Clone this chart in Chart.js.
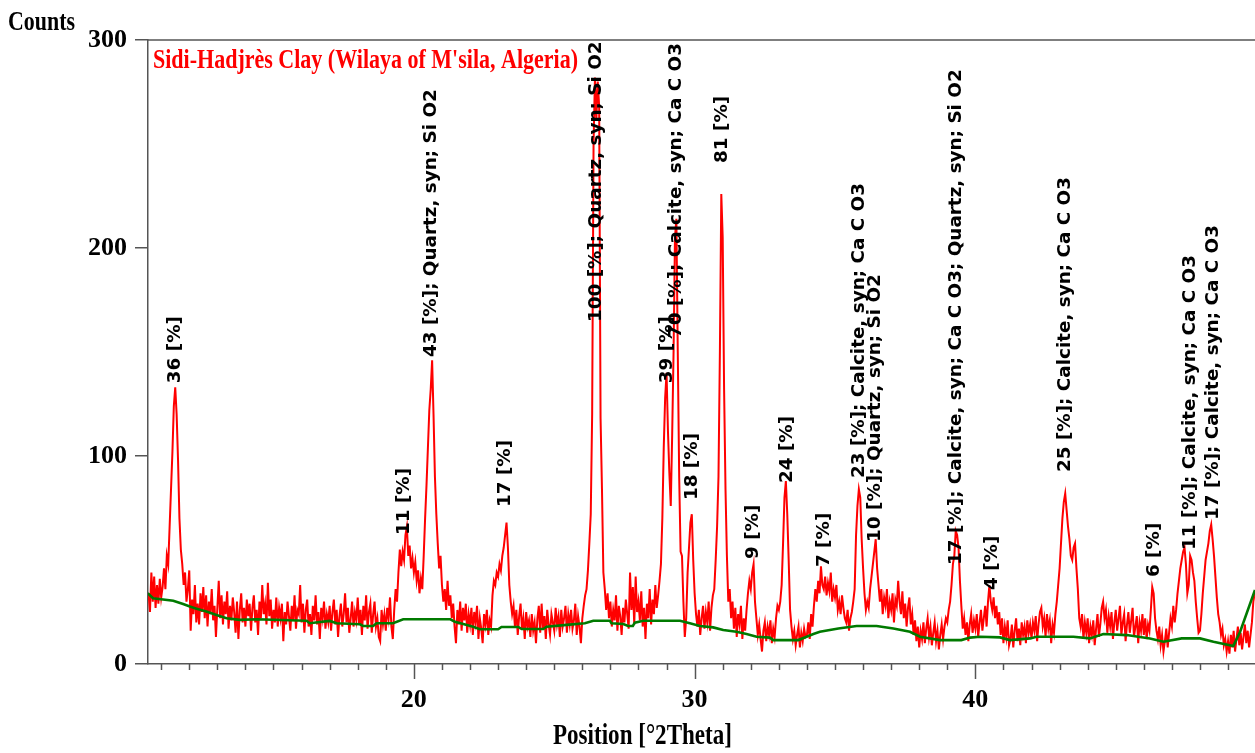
<!DOCTYPE html>
<html>
<head>
<meta charset="utf-8">
<script src="https://cdn.jsdelivr.net/npm/chart.js@4.4.1/dist/chart.umd.min.js"></script>
<style>
  html, body { margin: 0; padding: 0; background: #fff; }
  #wrap { width: 1255px; height: 753px; position: relative; }
</style>
</head>
<body>
<div id="wrap"><canvas id="xrd"></canvas></div>
<script>
// measured scan, 0.05 deg steps; one row per whole degree (first row starts at 10.55)
const scan10s = [
  [34, 25, 44, 30, 42, 27, 38, 29, 41],
  [32, 37, 46, 36, 52, 48, 66, 84, 102, 124, 133, 120, 98, 70, 55, 48, 38, 44, 30, 36],
  [45, 16, 31, 24, 38, 20, 29, 19, 34, 25, 37, 22, 33, 18, 30, 24, 36, 21, 28, 13],
  [27, 40, 22, 33, 19, 30, 24, 35, 17, 28, 21, 32, 25, 15, 30, 12, 26, 34, 20, 27],
  [18, 31, 23, 29, 16, 27, 33, 20, 26, 14, 30, 22, 38, 24, 29, 19, 39, 23, 31, 17],
  [26, 20, 32, 18, 27, 22, 29, 11, 25, 19, 30, 23, 16, 28, 21, 33, 17, 26, 24, 38],
  [20, 29, 15, 26, 31, 18, 24, 14, 28, 21, 33, 19, 25, 12, 27, 22, 30, 17, 24, 20],
  [28, 16, 25, 31, 19, 26, 13, 23, 29, 18, 24, 34, 20, 27, 15, 22, 30, 18, 25, 21],
  [32, 19, 26, 14, 28, 21, 33, 17, 25, 29, 15, 24, 30, 18, 22, 13, 11, 26, 19, 24],
  [16, 27, 22, 32, 18, 12, 26, 36, 30, 44, 55, 47, 54, 50, 62, 66, 52, 57, 46, 51]
];
const scan20s = [
  [44, 49, 40, 45, 34, 41, 36, 52, 70, 86, 104, 122, 132, 146, 120, 90, 72, 58, 46, 52],
  [38, 30, 36, 26, 40, 28, 33, 22, 29, 18, 10, 26, 19, 30, 16, 27, 21, 29, 15, 24],
  [19, 27, 14, 25, 20, 28, 12, 22, 17, 10, 24, 19, 26, 14, 21, 18, 33, 40, 38, 44],
  [42, 48, 45, 52, 56, 62, 68, 56, 38, 30, 24, 28, 18, 26, 14, 23, 29, 17, 22, 12],
  [25, 18, 21, 13, 24, 16, 20, 10, 22, 28, 15, 29, 17, 23, 12, 26, 19, 14, 24, 20],
  [16, 27, 19, 23, 13, 26, 18, 22, 28, 15, 24, 19, 26, 17, 21, 29, 14, 23, 18, 10],
  [22, 28, 33, 36, 45, 58, 72, 120, 250, 282, 262, 280, 268, 118, 84, 44, 36, 26, 34, 22],
  [30, 18, 26, 21, 33, 16, 28, 23, 14, 27, 20, 31, 24, 17, 44, 26, 37, 19, 42, 25],
  [30, 21, 35, 18, 27, 12, 29, 22, 36, 19, 31, 24, 38, 27, 33, 40, 48, 70, 104, 128],
  [140, 112, 92, 76, 110, 150, 205, 214, 150, 90, 54, 52, 30, 13, 22, 44, 56, 68, 72, 50]
];
const scan30s = [
  [34, 24, 18, 26, 14, 22, 28, 17, 25, 20, 30, 16, 27, 33, 36, 50, 66, 90, 150, 226],
  [205, 132, 84, 52, 30, 36, 22, 30, 17, 27, 13, 24, 19, 28, 12, 22, 16, 26, 34, 40],
  [36, 44, 48, 30, 22, 14, 19, 12, 6, 16, 20, 11, 18, 14, 21, 10, 17, 13, 22, 28],
  [26, 30, 38, 58, 80, 88, 72, 50, 26, 18, 12, 16, 9, 14, 18, 8, 15, 11, 17, 13],
  [14, 20, 12, 24, 18, 28, 36, 30, 40, 34, 47, 38, 36, 42, 33, 39, 35, 44, 30, 36],
  [32, 38, 26, 30, 24, 33, 27, 22, 20, 26, 16, 22, 25, 30, 36, 62, 76, 84, 80, 60],
  [46, 34, 26, 30, 27, 36, 42, 48, 54, 60, 46, 38, 30, 36, 24, 32, 28, 36, 22, 30],
  [26, 34, 20, 31, 28, 40, 30, 24, 35, 22, 29, 18, 27, 32, 19, 24, 14, 21, 11, 18],
  [8, 16, 12, 20, 10, 17, 22, 13, 18, 9, 15, 20, 11, 16, 7, 14, 19, 12, 18, 22],
  [20, 26, 30, 38, 48, 52, 64, 62, 56, 40, 28, 17, 22, 14, 20, 11, 19, 24, 15, 21]
];
const scan40s = [
  [17, 24, 13, 20, 26, 16, 22, 28, 18, 30, 38, 30, 26, 32, 22, 28, 19, 25, 14, 22],
  [10, 18, 13, 21, 9, 12, 19, 8, 16, 22, 11, 17, 9, 20, 14, 18, 10, 21, 15, 19],
  [12, 20, 16, 23, 11, 19, 25, 27, 18, 22, 13, 24, 17, 21, 10, 19, 15, 24, 30, 38],
  [46, 58, 70, 78, 82, 74, 66, 60, 52, 50, 56, 58, 46, 36, 22, 18, 24, 12, 20, 15],
  [22, 10, 18, 14, 21, 9, 17, 24, 13, 19, 27, 30, 22, 26, 15, 23, 18, 25, 12, 20],
  [26, 16, 22, 28, 14, 20, 24, 11, 19, 25, 15, 21, 27, 13, 18, 23, 10, 20, 16, 24],
  [14, 22, 12, 19, 16, 26, 37, 34, 22, 16, 12, 18, 9, 14, 6, 11, 17, 8, 15, 22],
  [18, 28, 20, 26, 34, 40, 46, 50, 54, 56, 48, 34, 38, 52, 50, 44, 40, 30, 22, 15],
  [16, 24, 34, 42, 50, 54, 58, 64, 67, 60, 52, 42, 32, 24, 20, 14, 17, 9, 12, 6],
  [11, 5, 14, 8, 16, 6, 12, 18, 9, 15, 7, 13, 19, 10, 16, 8, 14, 20, 30, 34]
];

// fitted background
const bgTheta = [10.52, 10.71, 11.43, 11.78, 12.02, 12.26, 12.61, 12.97, 13.33, 13.80, 14.40, 16.18, 16.29, 17.0, 17.25,
  18.08, 18.19, 18.55, 18.67, 19.26, 19.62, 21.3, 21.46, 21.76, 22.11, 22.35, 23.0, 23.12, 23.72, 23.84, 24.61, 24.73,
  25.44, 26.09, 26.39, 26.98, 27.04, 27.46, 27.63, 27.80, 27.87, 28.17, 29.48, 29.83, 30.19, 30.66, 31.02, 31.49, 31.85,
  32.21, 32.68, 32.80, 33.69, 33.99, 34.23, 34.46, 35.12, 35.77, 36.48, 37.08, 37.67, 38.03, 38.74, 39.5, 39.81, 40.16,
  40.88, 41.23, 41.95, 42.18, 43.49, 44.08, 44.56, 45.39, 46.22, 46.70, 47.35, 48.0, 48.48, 49.19, 49.43, 49.96];
const bgCounts = [34, 31.6, 30.4, 28.8, 27.6, 26.6, 25.2, 23.6, 22.0, 21.2, 21.5, 20.8, 19.6, 20.7, 19.6,
  19.1, 18.3, 18.3, 19.6, 19.6, 21.5, 21.5, 20.3, 19.2, 17.9, 16.7, 16.7, 17.8, 17.8, 16.8, 16.8, 17.9,
  18.8, 19.6, 20.8, 20.8, 19.6, 19.2, 18.3, 18.3, 19.9, 20.8, 20.8, 19.6, 18.3, 17.6, 16.3, 15.5, 14.4,
  13.1, 12.7, 11.5, 11.5, 13.1, 14.4, 15.5, 17.1, 18.3, 18.3, 17.1, 15.5, 13.1, 11.5, 11.5, 12.7, 13.1,
  12.8, 11.5, 12.3, 13.1, 13.1, 12.3, 14.4, 13.9, 12.3, 10.7, 12.3, 12.3, 10.7, 8.7, 15.5, 35.6];

// peak list labels: position, count where the label starts, text
const peakTheta = [11.52, 19.68, 20.64, 23.28, 26.52, 29.05, 29.37, 31.01, 29.94, 32.11, 33.32, 34.64, 35.89, 36.46,
  39.34, 40.63, 43.23, 46.40, 47.65, 48.50];
const peakBase = [135, 62, 147.6, 75.5, 164.4, 135, 156.7, 240.9, 78.8, 50.5, 87, 46.6, 89.4, 58.7, 47.6, 35.6, 92.3,
  41.8, 54.8, 69.2];
const peakText = [
  '36 [%]', '11 [%]', '43 [%]; Quartz, syn; Si O2', '17 [%]', '100 [%]; Quartz, syn; Si O2', '39 [%]',
  '70 [%]; Calcite, syn; Ca C O3', '81 [%]', '18 [%]', '9 [%]', '24 [%]', '7 [%]', '23 [%]; Calcite, syn; Ca C O3',
  '10 [%]; Quartz, syn; Si O2', '17 [%]; Calcite, syn; Ca C O3; Quartz, syn; Si O2', '4 [%]',
  '25 [%]; Calcite, syn; Ca C O3', '6 [%]', '11 [%]; Calcite, syn; Ca C O3', '17 [%]; Calcite, syn; Ca C O3'
];

const xMajor = [20, 30, 40];
const axisColor = '#555';
const serif = '"Liberation Serif", "Times New Roman", serif';

const scanPoints = [];
[[10, scan10s], [20, scan20s], [30, scan30s], [40, scan40s]].forEach(([start, rows]) => {
  rows.forEach((row, r) => {
    row.forEach((c, j) => {
      scanPoints.push({ x: +(start + r + 0.05 * (20 - row.length + j)).toFixed(2), y: c });
    });
  });
});
const bgPoints = bgTheta.map((t, i) => ({ x: t, y: bgCounts[i] }));

// text squeezed to a given width (the original fonts are condensed)
function fitText(ctx, text, x, y, width) {
  const w = ctx.measureText(text).width;
  ctx.save();
  ctx.translate(x, y);
  ctx.scale(width / w, 1);
  ctx.fillText(text, 0, 0);
  ctx.restore();
}

const decor = {
  id: 'decor',
  afterDraw(chart) {
    const { ctx, chartArea } = chart;
    const sx = chart.scales.x, sy = chart.scales.y;
    ctx.save();
    // top frame
    ctx.strokeStyle = axisColor;
    ctx.lineWidth = 1.5;
    ctx.beginPath();
    ctx.moveTo(chartArea.left, chartArea.top);
    ctx.lineTo(chartArea.right, chartArea.top);
    ctx.stroke();
    // x tick marks, every degree, long ones every ten
    for (let v = Math.ceil(sx.min); v <= sx.max; v++) {
      const px = Math.round(sx.getPixelForValue(v)) + 0.5;
      ctx.beginPath();
      ctx.moveTo(px, chartArea.bottom);
      ctx.lineTo(px, chartArea.bottom + (v % 10 === 0 ? 15 : 6));
      ctx.stroke();
    }
    // axis names and sample name
    ctx.fillStyle = '#000';
    ctx.font = 'bold 27px ' + serif;
    ctx.textBaseline = 'alphabetic';
    ctx.textAlign = 'left';
    fitText(ctx, 'Counts', 8, 30, 67);
    ctx.font = 'bold 30px ' + serif;
    fitText(ctx, 'Position [°2Theta]', 553, 744, 179);
    ctx.font = 'bold 27px ' + serif;
    ctx.fillStyle = '#ff0000';
    fitText(ctx, "Sidi-Hadjrès Clay (Wilaya of M'sila, Algeria)", 153, 68, 425);
    // peak labels
    ctx.fillStyle = '#000';
    ctx.font = 'bold 17px "DejaVu Sans", Verdana, sans-serif';
    ctx.textBaseline = 'middle';
    peakText.forEach((t, i) => {
      ctx.save();
      ctx.translate(sx.getPixelForValue(peakTheta[i]), sy.getPixelForValue(peakBase[i]));
      ctx.rotate(-Math.PI / 2);
      ctx.scale(1.08, 1);
      ctx.fillText(t, 0, 0);
      ctx.restore();
    });
    ctx.restore();
  }
};

new Chart(document.getElementById('xrd'), {
  type: 'line',
  data: {
    datasets: [
      {
        label: 'Background',
        data: bgPoints,
        borderColor: '#007a00',
        borderWidth: 2.6,
        pointRadius: 0,
        tension: 0
      },
      {
        label: 'Scan',
        data: scanPoints,
        borderColor: '#ff0000',
        borderWidth: 2,
        pointRadius: 0,
        tension: 0
      }
    ]
  },
  options: {
    responsive: true,
    maintainAspectRatio: false,
    animation: false,
    devicePixelRatio: 1,
    layout: { padding: { top: 40, right: 0, left: 0, bottom: 0 } },
    plugins: { legend: { display: false }, tooltip: { enabled: false } },
    scales: {
      x: {
        type: 'linear',
        min: 10.53,
        max: 49.96,
        afterBuildTicks: (axis) => { axis.ticks = xMajor.map(v => ({ value: v })); },
        afterFit: (scale) => { scale.height = 89; },
        ticks: {
          color: '#000',
          padding: 13,
          maxRotation: 0,
          font: { family: serif, weight: 'bold', size: 26 }
        },
        grid: { display: false },
        border: { display: true, color: axisColor, width: 1.5 }
      },
      y: {
        min: 0,
        max: 300,
        afterFit: (scale) => { scale.width = 148; },
        ticks: {
          stepSize: 100,
          color: '#000',
          padding: 8,
          font: { family: serif, weight: 'bold', size: 26 }
        },
        grid: { drawOnChartArea: false, drawTicks: true, tickLength: 13, color: axisColor, lineWidth: 1.5 },
        border: { display: true, color: axisColor, width: 1.5 }
      }
    }
  },
  plugins: [decor]
});
</script>
</body>
</html>
